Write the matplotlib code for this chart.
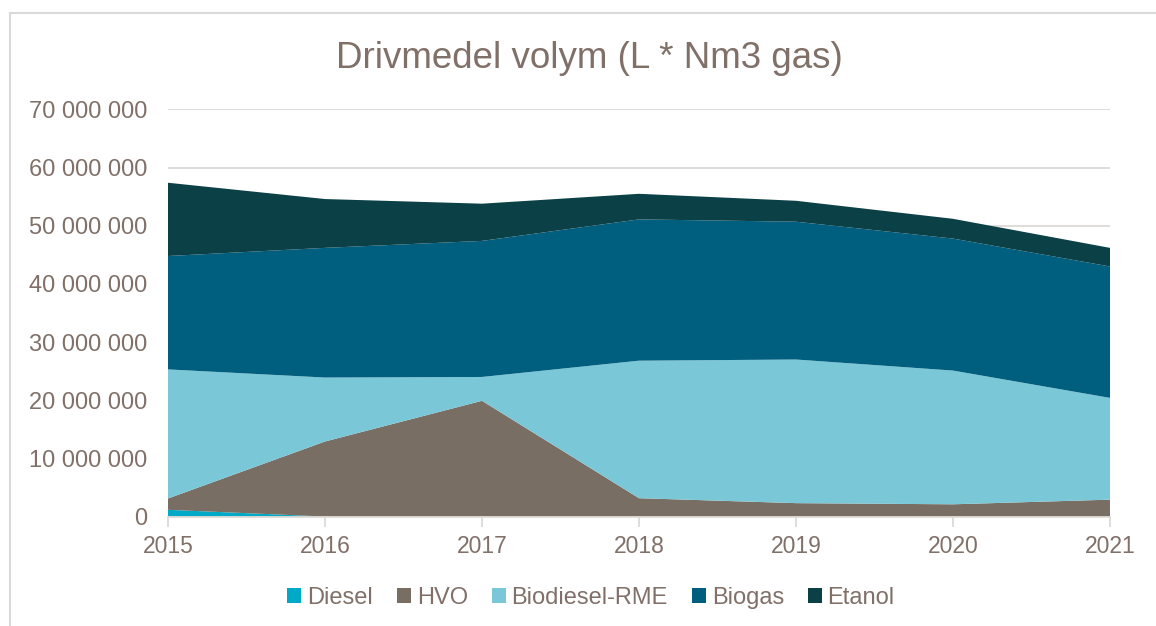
import numpy as np
import matplotlib.pyplot as plt
from matplotlib.lines import Line2D

# Data (in litres / Nm3)
years = [2015, 2016, 2017, 2018, 2019, 2020, 2021]
diesel = [1.15e6, 0.0, 0.0, 0.0, 0.0, 0.0, 0.0]
hvo = [1.95e6, 12.9e6, 19.9e6, 3.15e6, 2.3e6, 2.1e6, 2.9e6]
biodiesel = [22.2e6, 11.0e6, 4.1e6, 23.65e6, 24.7e6, 23.0e6, 17.5e6]
biogas = [19.5e6, 22.3e6, 23.4e6, 24.3e6, 23.7e6, 22.7e6, 22.6e6]
etanol = [12.6e6, 8.4e6, 6.4e6, 4.4e6, 3.6e6, 3.4e6, 3.2e6]

labels = ["Diesel", "HVO", "Biodiesel-RME", "Biogas", "Etanol"]
colors = ["#00A9C6", "#786E64", "#7AC7D7", "#005E7E", "#0B4046"]
text_col = "#807068"
grid_col = "#DDD9D5"

plt.rcParams['font.family'] = ['Liberation Sans', 'DejaVu Sans']

fig = plt.figure(figsize=(11.56, 6.26), dpi=100)
ax = fig.add_axes([0.1453, 0.1749, 0.8149, 0.6502])

ax.stackplot(years, diesel, hvo, biodiesel, biogas, etanol,
             colors=colors, labels=labels, linewidth=0)

ax.set_xlim(2015, 2021)
ax.set_ylim(0, 70e6)
ax.set_yticks(np.arange(0, 70e6 + 1, 10e6))
ax.yaxis.set_major_formatter(plt.FuncFormatter(lambda v, p: f"{int(v):,}".replace(",", " ")))
ax.set_xticks(years)

ax.grid(axis='y', color=grid_col, linewidth=1.3)
ax.set_axisbelow(True)
for s in ['top', 'right', 'left']:
    ax.spines[s].set_visible(False)
ax.spines['bottom'].set_color(grid_col)
ax.spines['bottom'].set_linewidth(1.3)
ax.spines['bottom'].set_zorder(5)

ax.tick_params(axis='y', length=0, labelsize=17, labelcolor=text_col, pad=15)
ax.tick_params(axis='x', length=7, width=1.3, color=grid_col, labelsize=16.5,
               labelcolor=text_col, pad=6)

fig.text(589 / 1156, 1 - 58 / 626, "Drivmedel volym (L * Nm3 gas)",
         ha='center', va='center', fontsize=26.5, color=text_col)

handles, lbls = ax.get_legend_handles_labels()
leg = fig.legend(handles, lbls, loc='center', bbox_to_anchor=(591 / 1156, 1 - 598 / 626),
                 ncol=5, frameon=False, fontsize=17, handlelength=0.6, handleheight=0.6,
                 handletextpad=0.25, columnspacing=1.0)
for t in leg.get_texts():
    t.set_color(text_col)

# chart frame (only left and top edges visible)
fig.add_artist(Line2D([10 / 1156, 10 / 1156], [0, 1 - 13 / 626], color="#D9D9D9",
                      linewidth=1.5, transform=fig.transFigure))
fig.add_artist(Line2D([10 / 1156, 1], [1 - 13 / 626, 1 - 13 / 626], color="#D9D9D9",
                      linewidth=1.5, transform=fig.transFigure))

fig.savefig("out.png", dpi=100)
